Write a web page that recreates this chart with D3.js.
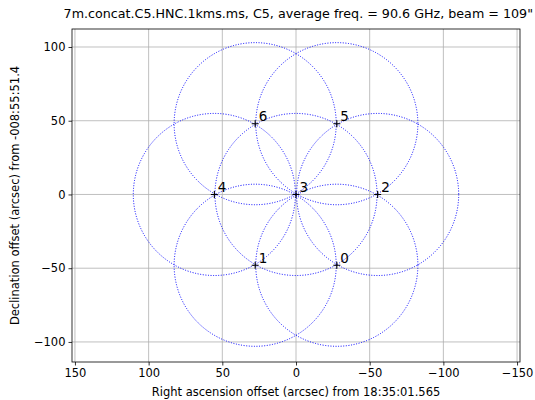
<!DOCTYPE html>
<html>
<head>
<meta charset="utf-8">
<script src="https://cdn.jsdelivr.net/npm/d3@7"></script>
<style>
  body { margin: 0; background: #fff; }
  svg { font-family: "DejaVu Sans", sans-serif; }
</style>
</head>
<body>
<svg id="chart" width="535" height="400"></svg>
<script>
// pointing positions (arcsec offsets from phase centre)
const pointingIds = ["0", "1", "2", "3", "4", "5", "6"];
const raOffsets  = [-27.7, 27.7, -55.4, 0, 55.4, -27.7, 27.7];
const decOffsets = [-48.0, -48.0, 0, 0, 0, 48.0, 48.0];
const beamRadius = 55;   // arcsec
const xTicks = [150, 100, 50, 0, -50, -100, -150];
const yTicks = [-100, -50, 0, 50, 100];
const titleText = "7m.concat.C5.HNC.1kms.ms, C5, average freq. = 90.6 GHz, beam = 109\"";
const xLabel = "Right ascension offset (arcsec) from 18:35:01.565";
const yLabel = "Declination offset (arcsec) from -008:55:51.4";

let chart = d3.select("#chart");

let plotLeft = 72, plotRight = 520, plotTop = 29, plotBottom = 362;

// x is reversed (RA increases to the left)
let x = d3.scaleLinear().domain([152, -152]).range([plotLeft, plotRight]);
let y = d3.scaleLinear().domain([-113.6, 112.2]).range([plotBottom, plotTop]);
let pxPerUnit = Math.abs(x(1) - x(0));

// grid
chart.append("g")
    .selectAll("line")
    .data(xTicks).enter()
    .append("line")
        .attr("x1", d => x(d)).attr("x2", d => x(d))
        .attr("y1", plotTop).attr("y2", plotBottom)
        .attr("stroke", "#b0b0b0").attr("stroke-width", 0.8);
chart.append("g")
    .selectAll("line")
    .data(yTicks).enter()
    .append("line")
        .attr("x1", plotLeft).attr("x2", plotRight)
        .attr("y1", d => y(d)).attr("y2", d => y(d))
        .attr("stroke", "#b0b0b0").attr("stroke-width", 0.8);

// beam circles
chart.append("g")
    .selectAll("circle")
    .data(pointingIds).enter()
    .append("circle")
        .attr("cx", (d, i) => x(raOffsets[i]))
        .attr("cy", (d, i) => y(decOffsets[i]))
        .attr("r", beamRadius * pxPerUnit)
        .attr("fill", "none")
        .attr("stroke", "#0000ff")
        .attr("stroke-width", 1)
        .attr("stroke-dasharray", "1,1.6");

// markers
let marks = chart.append("g");
pointingIds.forEach(function (id, i) {
    let cx = x(raOffsets[i]), cy = y(decOffsets[i]);
    marks.append("path")
        .attr("d", `M${cx - 3.5},${cy}H${cx + 3.5}M${cx},${cy - 3.5}V${cy + 3.5}`)
        .attr("stroke", "#000").attr("stroke-width", 1.1);
    marks.append("text")
        .text(id)
        .attr("x", cx + 3.5)
        .attr("y", cy - 2.5)
        .attr("font-size", "13.5px")
        .attr("fill", "#000");
});

// axes
let xAxis = d3.axisBottom(x).tickValues(xTicks).tickSize(3.5).tickPadding(3)
    .tickFormat(d => d < 0 ? "\u2212" + Math.abs(d) : d);
chart.append("g")
    .attr("transform", "translate(0," + plotBottom + ")")
    .call(xAxis)
    .call(g => g.select(".domain").remove())
    .selectAll("text").attr("font-size", "11.5px").attr("fill", "#000")
    .attr("font-family", "DejaVu Sans");

let yAxis = d3.axisLeft(y).tickValues(yTicks).tickSize(3.5).tickPadding(3)
    .tickFormat(d => d < 0 ? "\u2212" + Math.abs(d) : d);
chart.append("g")
    .attr("transform", "translate(" + plotLeft + ",0)")
    .call(yAxis)
    .call(g => g.select(".domain").remove())
    .selectAll("text").attr("font-size", "11.5px").attr("fill", "#000")
    .attr("font-family", "DejaVu Sans");

chart.selectAll(".tick line").attr("stroke", "#000").attr("stroke-width", 0.8);

// frame
chart.append("rect")
    .attr("x", plotLeft).attr("y", plotTop)
    .attr("width", plotRight - plotLeft).attr("height", plotBottom - plotTop)
    .attr("fill", "none").attr("stroke", "#000").attr("stroke-width", 0.8);

// labels
chart.append("text")
    .text(titleText)
    .attr("x", 533).attr("y", 18)
    .attr("font-size", "12.7px")
    .style("text-anchor", "end");

chart.append("text")
    .text(xLabel)
    .attr("x", (plotLeft + plotRight) / 2).attr("y", 396)
    .attr("font-size", "11.5px")
    .style("text-anchor", "middle");

chart.append("text")
    .text(yLabel)
    .attr("transform", "translate(19," + ((plotTop + plotBottom) / 2) + ") rotate(-90)")
    .attr("font-size", "11.5px")
    .style("text-anchor", "middle");
</script>
</body>
</html>
